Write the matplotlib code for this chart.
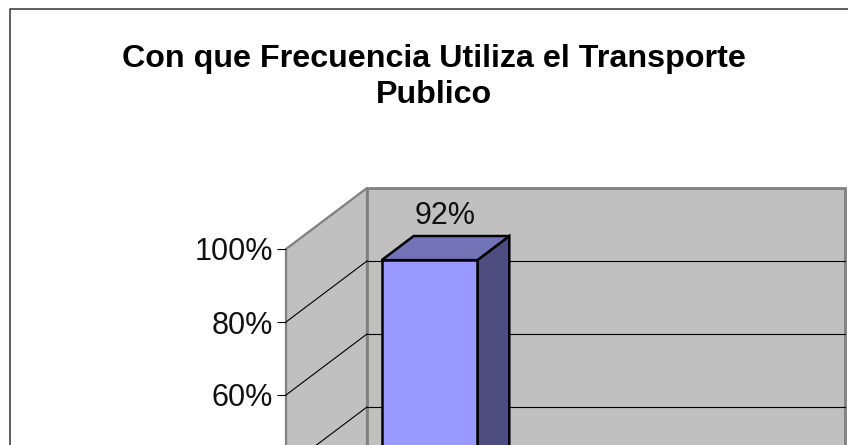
import matplotlib
matplotlib.use("Agg")
import matplotlib.pyplot as plt
from matplotlib.lines import Line2D
from matplotlib.patches import Polygon
from matplotlib.transforms import Affine2D, IdentityTransform

titulo = "Con que Frecuencia Utiliza el Transporte\nPublico"
valores = [92]
posiciones = [0]
etiquetas = ["92%"]
divisiones = [0, 20, 40, 60, 80, 100]
ticks_visibles = [60, 80, 100]

W, H = 848, 445
plt.rcParams["font.family"] = ["Liberation Sans", "DejaVu Sans"]

fig = plt.figure(figsize=(W / 100, H / 100), dpi=100, facecolor="white")
ax = fig.add_axes([286 / W, (H - 614) / H, 478 / W, 365 / H])
ax.set_xlim(-0.5, 1.5)
ax.set_ylim(0, 100)
ax.patch.set_visible(False)
for s in ax.spines.values():
    s.set_visible(False)
ax.set_xticks([])
ax.set_yticks(ticks_visibles)
ax.set_yticklabels([f"{t}%" for t in ticks_visibles], fontsize=22, color="#111111")
ax.tick_params(axis="y", length=6.5, width=0.8, pad=3, color="black")


def prof(dx):
    # desplazamiento en pixeles por la profundidad 3d
    return ax.transData + Affine2D().translate(dx, dx * 61 / 81)


def caja(puntos, **kw):
    ax.add_patch(Polygon(puntos, transform=IdentityTransform(), clip_on=False, **kw))


def px(x, y, dx=0):
    return prof(dx).transform((x, y))


# paredes
caja([px(-0.5, 0), px(-0.5, 100), px(-0.5, 100, 81), px(-0.5, 0, 81)],
     facecolor="#C0C0C0", edgecolor="#808080", linewidth=1.6, zorder=1)
caja([px(-0.5, 0, 81), px(-0.5, 100, 81), px(1.5, 100, 81), px(1.5, 0, 81)],
     facecolor="#C0C0C0", edgecolor="#808080", linewidth=2, zorder=1)

# lineas de division
for t in divisiones[:-1]:
    ax.plot([-0.5, 1.5], [t, t], color="black", lw=0.8, transform=prof(81), clip_on=False, zorder=2)
    a, b = px(-0.5, t), px(-0.5, t, 81)
    ax.add_line(Line2D([a[0], b[0]], [a[1], b[1]], color="black", lw=0.8,
                       transform=IdentityTransform(), zorder=2))

# barra
ancho = 0.4
d1, d2 = 24, 56
for x, v, e in zip(posiciones, valores, etiquetas):
    izq, der = x - ancho / 2, x + ancho / 2
    borde = dict(edgecolor="black", linewidth=1.8, joinstyle="miter", zorder=3)
    caja([px(der, 0, d1), px(der, v, d1), px(der, v, d2), px(der, 0, d2)], facecolor="#4D4D80", **borde)
    caja([px(izq, v, d1), px(izq, v, d2), px(der, v, d2), px(der, v, d1)], facecolor="#7373B8", **borde)
    caja([px(izq, 0, d1), px(izq, v, d1), px(der, v, d1), px(der, 0, d1)], facecolor="#9999FF", **borde)
    ax.text(x, v, e, transform=prof(40) + Affine2D().translate(0, 24), ha="center", va="baseline",
            fontsize=22, color="#111111", clip_on=False, zorder=4)

# marco exterior
fig.add_artist(Line2D([9.5 / W, 9.5 / W, 1], [0, 1 - 8.5 / H, 1 - 8.5 / H], color="#333333", lw=1.1))

# el baseline corresponde a la ultima linea del titulo
fig.text(434 / W, 1 - 103 / H, titulo, ha="center", va="baseline", fontsize=23.2, fontweight="bold",
         color="black", linespacing=1.24)

fig.savefig("out.png", dpi=100)
